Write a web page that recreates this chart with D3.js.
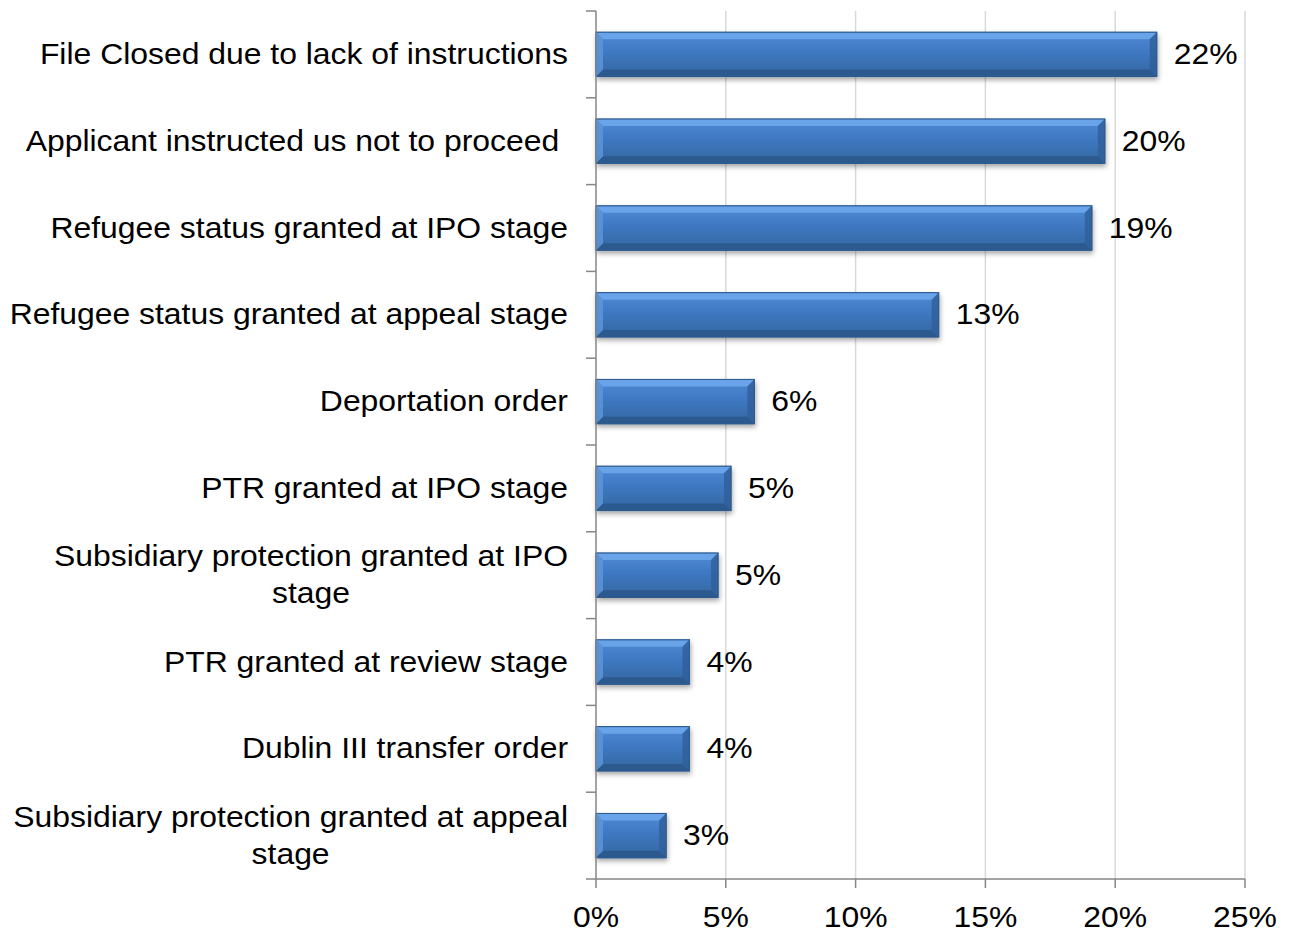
<!DOCTYPE html>
<html lang="en">
<head>
<meta charset="UTF-8">
<title>Case outcomes</title>
<script src="https://cdn.jsdelivr.net/npm/d3@7"></script>
<style>
	body { margin: 0; background: #fff; }
	text { font-family: "Liberation Sans", Arial, sans-serif; fill: #000; }
</style>
</head>
<body>
<svg></svg>
<script>
	// categories, top to bottom (label lines split where the original wraps)
	var categories = [
		['File Closed due to lack of instructions'],
		['Applicant instructed us not to proceed\u00a0'],
		['Refugee status granted at IPO stage'],
		['Refugee status granted at appeal stage'],
		['Deportation order'],
		['PTR granted at IPO stage'],
		['Subsidiary protection granted at IPO', 'stage'],
		['PTR granted at review stage'],
		['Dublin III transfer order'],
		['Subsidiary protection granted at appeal', 'stage']
	];
	var values = [21.6, 19.6, 19.1, 13.2, 6.1, 5.2, 4.7, 3.6, 3.6, 2.7];
	var valueLabels = ['22%', '20%', '19%', '13%', '6%', '5%', '5%', '4%', '4%', '3%'];
	var xTicks = [0, 5, 10, 15, 20, 25];

	var W = 1290, H = 933;
	var plotLeft = 596, plotRight = 1245, plotTop = 11, plotBottom = 879;
	var fontSize = '29px';
	var stretch = 1.1; // the original text is a bit wider than Liberation Sans

	var svg = d3.select('svg')
		.attr('width', W)
		.attr('height', H);

	var defs = svg.append('defs');

	var grad = defs.append('linearGradient')
		.attr('id', 'barGrad')
		.attr('x1', 0).attr('y1', 0).attr('x2', 0).attr('y2', 1);
	grad.append('stop').attr('offset', '0%').attr('stop-color', '#4f8bd6');
	grad.append('stop').attr('offset', '45%').attr('stop-color', '#3f78c2');
	grad.append('stop').attr('offset', '100%').attr('stop-color', '#33679f');

	var shadow = defs.append('filter')
		.attr('id', 'shadow')
		.attr('x', '-5%').attr('y', '-20%').attr('width', '115%').attr('height', '160%');
	shadow.append('feDropShadow')
		.attr('dx', 1).attr('dy', 3).attr('stdDeviation', 2.5)
		.attr('flood-color', '#000').attr('flood-opacity', 0.35);

	var x = d3.scaleLinear()
		.domain([0, 25])
		.range([plotLeft, plotRight]);

	var y = d3.scaleBand()
		.domain(d3.range(categories.length))
		.range([plotTop, plotBottom])
		.padding(0);

	var barH = y.bandwidth() * 0.51;

	function place(px, py) {
		return 'translate(' + px + ',' + py + ') scale(' + stretch + ',1)';
	}

	// gridlines
	svg.append('g')
		.selectAll('line')
		.data(xTicks.slice(1))
		.enter()
		.append('line')
		.attr('x1', function (d) { return x(d); })
		.attr('x2', function (d) { return x(d); })
		.attr('y1', plotTop)
		.attr('y2', plotBottom)
		.attr('stroke', '#d9d9d9')
		.attr('stroke-width', 1.5);

	// bars
	var bars = svg.append('g')
		.selectAll('g')
		.data(values)
		.enter()
		.append('g')
		.attr('transform', function (d, i) {
			return 'translate(' + plotLeft + ',' + (y(i) + (y.bandwidth() - barH) / 2) + ')';
		});

	bars.append('rect')
		.attr('width', function (d) { return x(d) - plotLeft; })
		.attr('height', barH)
		.attr('fill', 'url(#barGrad)')
		.attr('stroke', '#2d5b91')
		.attr('stroke-width', 1)
		.attr('filter', 'url(#shadow)');

	var bev = 7;
	// top bevel (light)
	bars.append('path')
		.attr('d', function (d) {
			var w = x(d) - plotLeft;
			return 'M0,0 L' + w + ',0 L' + (w - bev) + ',' + bev + ' L' + bev + ',' + bev + ' Z';
		})
		.attr('fill', '#6fa8ec')
		.attr('opacity', 0.85);
	// bottom bevel (dark)
	bars.append('path')
		.attr('d', function (d) {
			var w = x(d) - plotLeft;
			return 'M0,' + barH + ' L' + w + ',' + barH + ' L' + (w - bev) + ',' + (barH - bev) +
				' L' + bev + ',' + (barH - bev) + ' Z';
		})
		.attr('fill', '#2b5689')
		.attr('opacity', 0.8);
	// left bevel
	bars.append('path')
		.attr('d', 'M0,0 L' + bev + ',' + bev + ' L' + bev + ',' + (barH - bev) + ' L0,' + barH + ' Z')
		.attr('fill', '#5d97dd')
		.attr('opacity', 0.8);
	// right bevel
	bars.append('path')
		.attr('d', function (d) {
			var w = x(d) - plotLeft;
			return 'M' + w + ',0 L' + (w - bev) + ',' + bev + ' L' + (w - bev) + ',' + (barH - bev) +
				' L' + w + ',' + barH + ' Z';
		})
		.attr('fill', '#2f5f9a')
		.attr('opacity', 0.8);
	bars.append('rect')
		.attr('width', function (d) { return x(d) - plotLeft; })
		.attr('height', barH)
		.attr('fill', 'none')
		.attr('stroke', '#2d5b91')
		.attr('stroke-width', 1);

	// value labels
	svg.append('g')
		.selectAll('text')
		.data(values)
		.enter()
		.append('text')
		.attr('transform', function (d, i) { return place(x(d) + 17, y(i) + y.bandwidth() / 2); })
		.attr('dy', '0.33em')
		.style('font-size', fontSize)
		.text(function (d, i) { return valueLabels[i]; });

	// axes
	var axisColor = '#868686';
	svg.append('line')
		.attr('x1', plotLeft).attr('x2', plotLeft)
		.attr('y1', plotTop).attr('y2', plotBottom)
		.attr('stroke', axisColor).attr('stroke-width', 1.5);
	svg.append('line')
		.attr('x1', plotLeft - 10).attr('x2', plotRight)
		.attr('y1', plotBottom).attr('y2', plotBottom)
		.attr('stroke', axisColor).attr('stroke-width', 1.5);

	// category boundary ticks
	svg.append('g')
		.selectAll('line')
		.data(d3.range(categories.length))
		.enter()
		.append('line')
		.attr('x1', plotLeft - 10).attr('x2', plotLeft)
		.attr('y1', function (d) { return y(d); })
		.attr('y2', function (d) { return y(d); })
		.attr('stroke', axisColor).attr('stroke-width', 1.5);

	// x ticks + labels
	var xt = svg.append('g')
		.selectAll('g')
		.data(xTicks)
		.enter()
		.append('g')
		.attr('transform', function (d) { return 'translate(' + x(d) + ',' + plotBottom + ')'; });
	xt.append('line')
		.attr('y1', 0).attr('y2', 9)
		.attr('stroke', axisColor).attr('stroke-width', 1.5);
	xt.append('text')
		.attr('transform', place(0, 48))
		.attr('text-anchor', 'middle')
		.style('font-size', fontSize)
		.text(function (d) { return d + '%'; });

	// category labels
	var labelRight = 568;
	var lineH = 37;
	var cl = svg.append('g')
		.selectAll('g')
		.data(categories)
		.enter()
		.append('g')
		.attr('transform', function (d, i) {
			return 'translate(0,' + (y(i) + y.bandwidth() / 2) + ')';
		});
	cl.each(function (lines) {
		var g = d3.select(this);
		var y0 = -(lines.length - 1) * lineH / 2;
		var t = g.append('text')
			.attr('transform', place(labelRight, y0))
			.attr('text-anchor', 'end')
			.style('font-size', fontSize)
			.attr('dy', '0.33em')
			.text(lines[0]);
		if (lines.length > 1) {
			var w = t.node().getComputedTextLength() * stretch;
			var cx = labelRight - w / 2;
			t.attr('transform', place(cx, y0)).attr('text-anchor', 'middle');
			for (var k = 1; k < lines.length; k++) {
				g.append('text')
					.attr('transform', place(cx, y0 + k * lineH))
					.attr('text-anchor', 'middle')
					.style('font-size', fontSize)
					.attr('dy', '0.33em')
					.text(lines[k]);
			}
		}
	});
</script>
</body>
</html>
